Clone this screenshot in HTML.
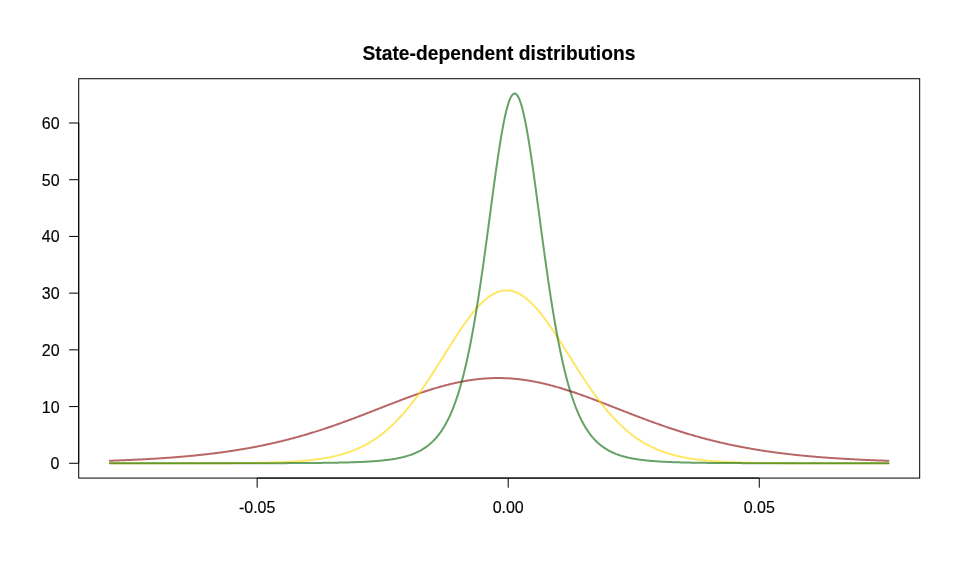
<!DOCTYPE html>
<html><head><meta charset="utf-8"><title>State-dependent distributions</title>
<style>
html,body{margin:0;padding:0;background:#fff;}
svg{display:block}
.t{font-family:"Liberation Sans",Arial,sans-serif;font-size:16px;fill:#000;stroke:#000;stroke-width:0.15px}
.m{font-family:"Liberation Sans",Arial,sans-serif;font-size:19.2px;font-weight:bold;fill:#000;stroke:#000;stroke-width:0.15px}
</style></head><body>
<svg width="960" height="576" viewBox="0 0 960 576">
<rect width="960" height="576" fill="#fff"/>
<polyline points="109.87,460.74 110.65,460.71 111.43,460.68 112.21,460.65 112.99,460.63 113.77,460.60 114.55,460.57 115.33,460.54 116.11,460.51 116.88,460.49 117.66,460.46 118.44,460.43 119.22,460.40 120.00,460.37 120.78,460.34 121.56,460.30 122.34,460.27 123.12,460.24 123.90,460.21 124.68,460.18 125.46,460.15 126.24,460.11 127.02,460.08 127.80,460.05 128.58,460.01 129.36,459.98 130.14,459.94 130.91,459.91 131.69,459.87 132.47,459.84 133.25,459.80 134.03,459.77 134.81,459.73 135.59,459.69 136.37,459.65 137.15,459.62 137.93,459.58 138.71,459.54 139.49,459.50 140.27,459.46 141.05,459.42 141.83,459.38 142.61,459.34 143.39,459.30 144.17,459.26 144.94,459.22 145.72,459.18 146.50,459.13 147.28,459.09 148.06,459.05 148.84,459.00 149.62,458.96 150.40,458.91 151.18,458.87 151.96,458.82 152.74,458.78 153.52,458.73 154.30,458.68 155.08,458.63 155.86,458.59 156.64,458.54 157.42,458.49 158.20,458.44 158.97,458.39 159.75,458.34 160.53,458.29 161.31,458.24 162.09,458.19 162.87,458.13 163.65,458.08 164.43,458.03 165.21,457.97 165.99,457.92 166.77,457.86 167.55,457.81 168.33,457.75 169.11,457.69 169.89,457.64 170.67,457.58 171.45,457.52 172.23,457.46 173.00,457.40 173.78,457.34 174.56,457.28 175.34,457.22 176.12,457.16 176.90,457.10 177.68,457.03 178.46,456.97 179.24,456.91 180.02,456.84 180.80,456.78 181.58,456.71 182.36,456.64 183.14,456.58 183.92,456.51 184.70,456.44 185.48,456.37 186.26,456.30 187.03,456.23 187.81,456.16 188.59,456.09 189.37,456.01 190.15,455.94 190.93,455.87 191.71,455.79 192.49,455.72 193.27,455.64 194.05,455.56 194.83,455.49 195.61,455.41 196.39,455.33 197.17,455.25 197.95,455.17 198.73,455.09 199.51,455.01 200.28,454.92 201.06,454.84 201.84,454.76 202.62,454.67 203.40,454.59 204.18,454.50 204.96,454.41 205.74,454.33 206.52,454.24 207.30,454.15 208.08,454.06 208.86,453.97 209.64,453.87 210.42,453.78 211.20,453.69 211.98,453.59 212.76,453.50 213.54,453.40 214.31,453.30 215.09,453.21 215.87,453.11 216.65,453.01 217.43,452.91 218.21,452.81 218.99,452.70 219.77,452.60 220.55,452.50 221.33,452.39 222.11,452.29 222.89,452.18 223.67,452.07 224.45,451.96 225.23,451.86 226.01,451.74 226.79,451.63 227.57,451.52 228.34,451.41 229.12,451.29 229.90,451.18 230.68,451.06 231.46,450.95 232.24,450.83 233.02,450.71 233.80,450.59 234.58,450.47 235.36,450.35 236.14,450.22 236.92,450.10 237.70,449.97 238.48,449.85 239.26,449.72 240.04,449.59 240.82,449.46 241.60,449.33 242.37,449.20 243.15,449.07 243.93,448.94 244.71,448.80 245.49,448.67 246.27,448.53 247.05,448.39 247.83,448.25 248.61,448.11 249.39,447.97 250.17,447.83 250.95,447.69 251.73,447.54 252.51,447.40 253.29,447.25 254.07,447.10 254.85,446.95 255.63,446.80 256.40,446.65 257.18,446.50 257.96,446.35 258.74,446.19 259.52,446.04 260.30,445.88 261.08,445.72 261.86,445.56 262.64,445.40 263.42,445.24 264.20,445.08 264.98,444.91 265.76,444.75 266.54,444.58 267.32,444.41 268.10,444.25 268.88,444.08 269.66,443.91 270.43,443.73 271.21,443.56 271.99,443.38 272.77,443.21 273.55,443.03 274.33,442.85 275.11,442.67 275.89,442.49 276.67,442.31 277.45,442.13 278.23,441.94 279.01,441.76 279.79,441.57 280.57,441.38 281.35,441.19 282.13,441.00 282.91,440.81 283.68,440.62 284.46,440.42 285.24,440.23 286.02,440.03 286.80,439.83 287.58,439.63 288.36,439.43 289.14,439.23 289.92,439.02 290.70,438.82 291.48,438.61 292.26,438.41 293.04,438.20 293.82,437.99 294.60,437.78 295.38,437.56 296.16,437.35 296.94,437.14 297.71,436.92 298.49,436.70 299.27,436.48 300.05,436.26 300.83,436.04 301.61,435.82 302.39,435.60 303.17,435.37 303.95,435.15 304.73,434.92 305.51,434.69 306.29,434.46 307.07,434.23 307.85,434.00 308.63,433.76 309.41,433.53 310.19,433.29 310.97,433.06 311.74,432.82 312.52,432.58 313.30,432.34 314.08,432.09 314.86,431.85 315.64,431.61 316.42,431.36 317.20,431.11 317.98,430.87 318.76,430.62 319.54,430.37 320.32,430.11 321.10,429.86 321.88,429.61 322.66,429.35 323.44,429.10 324.22,428.84 325.00,428.58 325.77,428.32 326.55,428.06 327.33,427.80 328.11,427.54 328.89,427.27 329.67,427.01 330.45,426.74 331.23,426.47 332.01,426.21 332.79,425.94 333.57,425.67 334.35,425.39 335.13,425.12 335.91,424.85 336.69,424.57 337.47,424.30 338.25,424.02 339.03,423.75 339.80,423.47 340.58,423.19 341.36,422.91 342.14,422.63 342.92,422.35 343.70,422.06 344.48,421.78 345.26,421.49 346.04,421.21 346.82,420.92 347.60,420.64 348.38,420.35 349.16,420.06 349.94,419.77 350.72,419.48 351.50,419.19 352.28,418.90 353.06,418.61 353.83,418.31 354.61,418.02 355.39,417.73 356.17,417.43 356.95,417.14 357.73,416.84 358.51,416.54 359.29,416.25 360.07,415.95 360.85,415.65 361.63,415.35 362.41,415.05 363.19,414.75 363.97,414.45 364.75,414.15 365.53,413.85 366.31,413.55 367.09,413.25 367.86,412.94 368.64,412.64 369.42,412.34 370.20,412.03 370.98,411.73 371.76,411.43 372.54,411.12 373.32,410.82 374.10,410.51 374.88,410.21 375.66,409.91 376.44,409.60 377.22,409.30 378.00,408.99 378.78,408.69 379.56,408.38 380.34,408.08 381.11,407.77 381.89,407.47 382.67,407.16 383.45,406.86 384.23,406.55 385.01,406.25 385.79,405.94 386.57,405.64 387.35,405.33 388.13,405.03 388.91,404.73 389.69,404.42 390.47,404.12 391.25,403.82 392.03,403.52 392.81,403.22 393.59,402.91 394.37,402.61 395.14,402.31 395.92,402.01 396.70,401.71 397.48,401.42 398.26,401.12 399.04,400.82 399.82,400.52 400.60,400.23 401.38,399.93 402.16,399.64 402.94,399.35 403.72,399.05 404.50,398.76 405.28,398.47 406.06,398.18 406.84,397.89 407.62,397.60 408.40,397.31 409.17,397.03 409.95,396.74 410.73,396.46 411.51,396.18 412.29,395.89 413.07,395.61 413.85,395.33 414.63,395.05 415.41,394.78 416.19,394.50 416.97,394.23 417.75,393.95 418.53,393.68 419.31,393.41 420.09,393.14 420.87,392.88 421.65,392.61 422.43,392.35 423.20,392.08 423.98,391.82 424.76,391.56 425.54,391.30 426.32,391.05 427.10,390.79 427.88,390.54 428.66,390.29 429.44,390.04 430.22,389.79 431.00,389.55 431.78,389.30 432.56,389.06 433.34,388.82 434.12,388.58 434.90,388.35 435.68,388.11 436.46,387.88 437.23,387.65 438.01,387.42 438.79,387.20 439.57,386.97 440.35,386.75 441.13,386.53 441.91,386.32 442.69,386.10 443.47,385.89 444.25,385.68 445.03,385.47 445.81,385.27 446.59,385.06 447.37,384.86 448.15,384.67 448.93,384.47 449.71,384.28 450.49,384.09 451.26,383.90 452.04,383.71 452.82,383.53 453.60,383.35 454.38,383.17 455.16,383.00 455.94,382.83 456.72,382.66 457.50,382.49 458.28,382.33 459.06,382.17 459.84,382.01 460.62,381.85 461.40,381.70 462.18,381.55 462.96,381.41 463.74,381.26 464.51,381.12 465.29,380.98 466.07,380.85 466.85,380.72 467.63,380.59 468.41,380.46 469.19,380.34 469.97,380.22 470.75,380.10 471.53,379.99 472.31,379.88 473.09,379.77 473.87,379.67 474.65,379.57 475.43,379.47 476.21,379.37 476.99,379.28 477.77,379.19 478.54,379.11 479.32,379.03 480.10,378.95 480.88,378.87 481.66,378.80 482.44,378.73 483.22,378.66 484.00,378.60 484.78,378.54 485.56,378.49 486.34,378.43 487.12,378.39 487.90,378.34 488.68,378.30 489.46,378.26 490.24,378.22 491.02,378.19 491.80,378.16 492.57,378.13 493.35,378.11 494.13,378.09 494.91,378.08 495.69,378.06 496.47,378.06 497.25,378.05 498.03,378.05 498.81,378.05 499.59,378.05 500.37,378.06 501.15,378.07 501.93,378.09 502.71,378.11 503.49,378.13 504.27,378.15 505.05,378.18 505.83,378.21 506.60,378.25 507.38,378.28 508.16,378.33 508.94,378.37 509.72,378.42 510.50,378.47 511.28,378.52 512.06,378.58 512.84,378.64 513.62,378.71 514.40,378.78 515.18,378.85 515.96,378.92 516.74,379.00 517.52,379.08 518.30,379.16 519.08,379.25 519.86,379.34 520.63,379.44 521.41,379.53 522.19,379.63 522.97,379.74 523.75,379.84 524.53,379.95 525.31,380.06 526.09,380.18 526.87,380.30 527.65,380.42 528.43,380.55 529.21,380.67 529.99,380.80 530.77,380.94 531.55,381.08 532.33,381.22 533.11,381.36 533.89,381.50 534.66,381.65 535.44,381.80 536.22,381.96 537.00,382.12 537.78,382.28 538.56,382.44 539.34,382.60 540.12,382.77 540.90,382.94 541.68,383.12 542.46,383.29 543.24,383.47 544.02,383.65 544.80,383.84 545.58,384.03 546.36,384.22 547.14,384.41 547.91,384.60 548.69,384.80 549.47,385.00 550.25,385.20 551.03,385.40 551.81,385.61 552.59,385.82 553.37,386.03 554.15,386.25 554.93,386.46 555.71,386.68 556.49,386.90 557.27,387.12 558.05,387.35 558.83,387.58 559.61,387.80 560.39,388.04 561.17,388.27 561.94,388.50 562.72,388.74 563.50,388.98 564.28,389.22 565.06,389.47 565.84,389.71 566.62,389.96 567.40,390.21 568.18,390.46 568.96,390.71 569.74,390.96 570.52,391.22 571.30,391.48 572.08,391.74 572.86,392.00 573.64,392.26 574.42,392.52 575.20,392.79 575.97,393.06 576.75,393.32 577.53,393.59 578.31,393.87 579.09,394.14 579.87,394.41 580.65,394.69 581.43,394.96 582.21,395.24 582.99,395.52 583.77,395.80 584.55,396.08 585.33,396.37 586.11,396.65 586.89,396.93 587.67,397.22 588.45,397.51 589.23,397.80 590.00,398.08 590.78,398.37 591.56,398.67 592.34,398.96 593.12,399.25 593.90,399.54 594.68,399.84 595.46,400.13 596.24,400.43 597.02,400.72 597.80,401.02 598.58,401.32 599.36,401.62 600.14,401.92 600.92,402.22 601.70,402.52 602.48,402.82 603.26,403.12 604.03,403.42 604.81,403.72 605.59,404.02 606.37,404.33 607.15,404.63 607.93,404.93 608.71,405.23 609.49,405.54 610.27,405.84 611.05,406.15 611.83,406.45 612.61,406.76 613.39,407.06 614.17,407.37 614.95,407.67 615.73,407.98 616.51,408.28 617.29,408.59 618.06,408.89 618.84,409.20 619.62,409.50 620.40,409.81 621.18,410.11 621.96,410.42 622.74,410.72 623.52,411.02 624.30,411.33 625.08,411.63 625.86,411.94 626.64,412.24 627.42,412.54 628.20,412.84 628.98,413.15 629.76,413.45 630.54,413.75 631.31,414.05 632.09,414.35 632.87,414.65 633.65,414.95 634.43,415.25 635.21,415.55 635.99,415.85 636.77,416.15 637.55,416.45 638.33,416.74 639.11,417.04 639.89,417.33 640.67,417.63 641.45,417.92 642.23,418.22 643.01,418.51 643.79,418.80 644.57,419.10 645.34,419.39 646.12,419.68 646.90,419.97 647.68,420.25 648.46,420.54 649.24,420.83 650.02,421.12 650.80,421.40 651.58,421.69 652.36,421.97 653.14,422.25 653.92,422.54 654.70,422.82 655.48,423.10 656.26,423.38 657.04,423.65 657.82,423.93 658.60,424.21 659.37,424.48 660.15,424.76 660.93,425.03 661.71,425.31 662.49,425.58 663.27,425.85 664.05,426.12 664.83,426.39 665.61,426.65 666.39,426.92 667.17,427.19 667.95,427.45 668.73,427.71 669.51,427.98 670.29,428.24 671.07,428.50 671.85,428.75 672.63,429.01 673.40,429.27 674.18,429.52 674.96,429.78 675.74,430.03 676.52,430.28 677.30,430.53 678.08,430.78 678.86,431.03 679.64,431.28 680.42,431.53 681.20,431.77 681.98,432.01 682.76,432.26 683.54,432.50 684.32,432.74 685.10,432.98 685.88,433.22 686.66,433.45 687.43,433.69 688.21,433.92 688.99,434.15 689.77,434.39 690.55,434.62 691.33,434.84 692.11,435.07 692.89,435.30 693.67,435.52 694.45,435.75 695.23,435.97 696.01,436.19 696.79,436.41 697.57,436.63 698.35,436.85 699.13,437.07 699.91,437.28 700.69,437.49 701.46,437.71 702.24,437.92 703.02,438.13 703.80,438.34 704.58,438.55 705.36,438.75 706.14,438.96 706.92,439.16 707.70,439.36 708.48,439.56 709.26,439.76 710.04,439.96 710.82,440.16 711.60,440.36 712.38,440.55 713.16,440.75 713.94,440.94 714.72,441.13 715.49,441.32 716.27,441.51 717.05,441.70 717.83,441.88 718.61,442.07 719.39,442.25 720.17,442.43 720.95,442.61 721.73,442.79 722.51,442.97 723.29,443.15 724.07,443.33 724.85,443.50 725.63,443.68 726.41,443.85 727.19,444.02 727.97,444.19 728.74,444.36 729.52,444.53 730.30,444.69 731.08,444.86 731.86,445.02 732.64,445.19 733.42,445.35 734.20,445.51 734.98,445.67 735.76,445.83 736.54,445.99 737.32,446.14 738.10,446.30 738.88,446.45 739.66,446.60 740.44,446.75 741.22,446.90 742.00,447.05 742.77,447.20 743.55,447.35 744.33,447.49 745.11,447.64 745.89,447.78 746.67,447.92 747.45,448.07 748.23,448.21 749.01,448.35 749.79,448.48 750.57,448.62 751.35,448.76 752.13,448.89 752.91,449.03 753.69,449.16 754.47,449.29 755.25,449.42 756.03,449.55 756.80,449.68 757.58,449.81 758.36,449.93 759.14,450.06 759.92,450.18 760.70,450.31 761.48,450.43 762.26,450.55 763.04,450.67 763.82,450.79 764.60,450.91 765.38,451.02 766.16,451.14 766.94,451.26 767.72,451.37 768.50,451.48 769.28,451.60 770.06,451.71 770.83,451.82 771.61,451.93 772.39,452.04 773.17,452.15 773.95,452.25 774.73,452.36 775.51,452.46 776.29,452.57 777.07,452.67 777.85,452.77 778.63,452.88 779.41,452.98 780.19,453.08 780.97,453.17 781.75,453.27 782.53,453.37 783.31,453.47 784.09,453.56 784.86,453.66 785.64,453.75 786.42,453.84 787.20,453.94 787.98,454.03 788.76,454.12 789.54,454.21 790.32,454.30 791.10,454.38 791.88,454.47 792.66,454.56 793.44,454.64 794.22,454.73 795.00,454.81 795.78,454.90 796.56,454.98 797.34,455.06 798.12,455.14 798.89,455.22 799.67,455.30 800.45,455.38 801.23,455.46 802.01,455.54 802.79,455.62 803.57,455.69 804.35,455.77 805.13,455.84 805.91,455.92 806.69,455.99 807.47,456.06 808.25,456.13 809.03,456.21 809.81,456.28 810.59,456.35 811.37,456.42 812.14,456.49 812.92,456.55 813.70,456.62 814.48,456.69 815.26,456.75 816.04,456.82 816.82,456.88 817.60,456.95 818.38,457.01 819.16,457.08 819.94,457.14 820.72,457.20 821.50,457.26 822.28,457.32 823.06,457.38 823.84,457.44 824.62,457.50 825.40,457.56 826.17,457.62 826.95,457.68 827.73,457.73 828.51,457.79 829.29,457.84 830.07,457.90 830.85,457.95 831.63,458.01 832.41,458.06 833.19,458.12 833.97,458.17 834.75,458.22 835.53,458.27 836.31,458.32 837.09,458.37 837.87,458.42 838.65,458.47 839.43,458.52 840.20,458.57 840.98,458.62 841.76,458.67 842.54,458.71 843.32,458.76 844.10,458.81 844.88,458.85 845.66,458.90 846.44,458.94 847.22,458.99 848.00,459.03 848.78,459.08 849.56,459.12 850.34,459.16 851.12,459.20 851.90,459.25 852.68,459.29 853.46,459.33 854.23,459.37 855.01,459.41 855.79,459.45 856.57,459.49 857.35,459.53 858.13,459.57 858.91,459.60 859.69,459.64 860.47,459.68 861.25,459.72 862.03,459.75 862.81,459.79 863.59,459.83 864.37,459.86 865.15,459.90 865.93,459.93 866.71,459.97 867.49,460.00 868.26,460.04 869.04,460.07 869.82,460.10 870.60,460.13 871.38,460.17 872.16,460.20 872.94,460.23 873.72,460.26 874.50,460.29 875.28,460.33 876.06,460.36 876.84,460.39 877.62,460.42 878.40,460.45 879.18,460.48 879.96,460.50 880.74,460.53 881.52,460.56 882.29,460.59 883.07,460.62 883.85,460.65 884.63,460.67 885.41,460.70 886.19,460.73 886.97,460.75 887.75,460.78 888.53,460.81" fill="none" stroke="rgba(139,0,0,0.6)" stroke-width="2" stroke-linecap="round" stroke-linejoin="round"/>
<polyline points="109.87,463.29 110.65,463.29 111.43,463.29 112.21,463.29 112.99,463.29 113.77,463.29 114.55,463.29 115.33,463.29 116.11,463.29 116.88,463.29 117.66,463.29 118.44,463.29 119.22,463.29 120.00,463.29 120.78,463.29 121.56,463.29 122.34,463.29 123.12,463.29 123.90,463.29 124.68,463.29 125.46,463.29 126.24,463.29 127.02,463.29 127.80,463.29 128.58,463.29 129.36,463.29 130.14,463.29 130.91,463.29 131.69,463.29 132.47,463.29 133.25,463.29 134.03,463.29 134.81,463.29 135.59,463.29 136.37,463.29 137.15,463.29 137.93,463.29 138.71,463.29 139.49,463.29 140.27,463.29 141.05,463.29 141.83,463.29 142.61,463.28 143.39,463.28 144.17,463.28 144.94,463.28 145.72,463.28 146.50,463.28 147.28,463.28 148.06,463.28 148.84,463.28 149.62,463.28 150.40,463.28 151.18,463.28 151.96,463.28 152.74,463.28 153.52,463.28 154.30,463.28 155.08,463.28 155.86,463.28 156.64,463.28 157.42,463.28 158.20,463.28 158.97,463.28 159.75,463.28 160.53,463.28 161.31,463.28 162.09,463.28 162.87,463.28 163.65,463.28 164.43,463.28 165.21,463.28 165.99,463.28 166.77,463.28 167.55,463.28 168.33,463.28 169.11,463.28 169.89,463.28 170.67,463.27 171.45,463.27 172.23,463.27 173.00,463.27 173.78,463.27 174.56,463.27 175.34,463.27 176.12,463.27 176.90,463.27 177.68,463.27 178.46,463.27 179.24,463.27 180.02,463.27 180.80,463.27 181.58,463.27 182.36,463.27 183.14,463.27 183.92,463.26 184.70,463.26 185.48,463.26 186.26,463.26 187.03,463.26 187.81,463.26 188.59,463.26 189.37,463.26 190.15,463.26 190.93,463.26 191.71,463.26 192.49,463.25 193.27,463.25 194.05,463.25 194.83,463.25 195.61,463.25 196.39,463.25 197.17,463.25 197.95,463.25 198.73,463.24 199.51,463.24 200.28,463.24 201.06,463.24 201.84,463.24 202.62,463.24 203.40,463.24 204.18,463.23 204.96,463.23 205.74,463.23 206.52,463.23 207.30,463.23 208.08,463.22 208.86,463.22 209.64,463.22 210.42,463.22 211.20,463.22 211.98,463.21 212.76,463.21 213.54,463.21 214.31,463.21 215.09,463.20 215.87,463.20 216.65,463.20 217.43,463.20 218.21,463.19 218.99,463.19 219.77,463.19 220.55,463.18 221.33,463.18 222.11,463.18 222.89,463.17 223.67,463.17 224.45,463.17 225.23,463.16 226.01,463.16 226.79,463.15 227.57,463.15 228.34,463.15 229.12,463.14 229.90,463.14 230.68,463.13 231.46,463.13 232.24,463.12 233.02,463.12 233.80,463.11 234.58,463.11 235.36,463.10 236.14,463.09 236.92,463.09 237.70,463.08 238.48,463.08 239.26,463.07 240.04,463.06 240.82,463.06 241.60,463.05 242.37,463.04 243.15,463.03 243.93,463.03 244.71,463.02 245.49,463.01 246.27,463.00 247.05,462.99 247.83,462.98 248.61,462.97 249.39,462.96 250.17,462.95 250.95,462.94 251.73,462.93 252.51,462.92 253.29,462.91 254.07,462.90 254.85,462.89 255.63,462.88 256.40,462.86 257.18,462.85 257.96,462.84 258.74,462.82 259.52,462.81 260.30,462.79 261.08,462.78 261.86,462.76 262.64,462.75 263.42,462.73 264.20,462.72 264.98,462.70 265.76,462.68 266.54,462.66 267.32,462.64 268.10,462.62 268.88,462.60 269.66,462.58 270.43,462.56 271.21,462.54 271.99,462.52 272.77,462.50 273.55,462.47 274.33,462.45 275.11,462.42 275.89,462.40 276.67,462.37 277.45,462.35 278.23,462.32 279.01,462.29 279.79,462.26 280.57,462.23 281.35,462.20 282.13,462.17 282.91,462.13 283.68,462.10 284.46,462.07 285.24,462.03 286.02,461.99 286.80,461.96 287.58,461.92 288.36,461.88 289.14,461.84 289.92,461.79 290.70,461.75 291.48,461.71 292.26,461.66 293.04,461.61 293.82,461.57 294.60,461.52 295.38,461.47 296.16,461.41 296.94,461.36 297.71,461.31 298.49,461.25 299.27,461.19 300.05,461.13 300.83,461.07 301.61,461.01 302.39,460.94 303.17,460.88 303.95,460.81 304.73,460.74 305.51,460.67 306.29,460.60 307.07,460.52 307.85,460.44 308.63,460.36 309.41,460.28 310.19,460.20 310.97,460.11 311.74,460.03 312.52,459.94 313.30,459.84 314.08,459.75 314.86,459.65 315.64,459.55 316.42,459.45 317.20,459.35 317.98,459.24 318.76,459.13 319.54,459.02 320.32,458.90 321.10,458.78 321.88,458.66 322.66,458.54 323.44,458.41 324.22,458.28 325.00,458.15 325.77,458.01 326.55,457.87 327.33,457.72 328.11,457.58 328.89,457.43 329.67,457.27 330.45,457.11 331.23,456.95 332.01,456.79 332.79,456.62 333.57,456.44 334.35,456.27 335.13,456.08 335.91,455.90 336.69,455.71 337.47,455.51 338.25,455.31 339.03,455.11 339.80,454.90 340.58,454.69 341.36,454.47 342.14,454.25 342.92,454.02 343.70,453.78 344.48,453.55 345.26,453.30 346.04,453.05 346.82,452.80 347.60,452.54 348.38,452.27 349.16,452.00 349.94,451.73 350.72,451.44 351.50,451.15 352.28,450.86 353.06,450.56 353.83,450.25 354.61,449.94 355.39,449.61 356.17,449.29 356.95,448.95 357.73,448.61 358.51,448.26 359.29,447.91 360.07,447.55 360.85,447.18 361.63,446.80 362.41,446.42 363.19,446.03 363.97,445.63 364.75,445.22 365.53,444.81 366.31,444.38 367.09,443.95 367.86,443.52 368.64,443.07 369.42,442.61 370.20,442.15 370.98,441.68 371.76,441.20 372.54,440.71 373.32,440.21 374.10,439.70 374.88,439.19 375.66,438.66 376.44,438.13 377.22,437.58 378.00,437.03 378.78,436.47 379.56,435.90 380.34,435.32 381.11,434.73 381.89,434.13 382.67,433.52 383.45,432.90 384.23,432.27 385.01,431.63 385.79,430.98 386.57,430.32 387.35,429.64 388.13,428.96 388.91,428.27 389.69,427.57 390.47,426.86 391.25,426.14 392.03,425.41 392.81,424.66 393.59,423.91 394.37,423.15 395.14,422.37 395.92,421.59 396.70,420.79 397.48,419.98 398.26,419.17 399.04,418.34 399.82,417.50 400.60,416.65 401.38,415.79 402.16,414.92 402.94,414.04 403.72,413.15 404.50,412.25 405.28,411.34 406.06,410.42 406.84,409.48 407.62,408.54 408.40,407.59 409.17,406.62 409.95,405.65 410.73,404.66 411.51,403.67 412.29,402.67 413.07,401.65 413.85,400.63 414.63,399.60 415.41,398.55 416.19,397.50 416.97,396.44 417.75,395.37 418.53,394.29 419.31,393.21 420.09,392.11 420.87,391.01 421.65,389.89 422.43,388.77 423.20,387.64 423.98,386.51 424.76,385.36 425.54,384.21 426.32,383.05 427.10,381.89 427.88,380.72 428.66,379.54 429.44,378.35 430.22,377.16 431.00,375.97 431.78,374.76 432.56,373.56 433.34,372.35 434.12,371.13 434.90,369.91 435.68,368.68 436.46,367.46 437.23,366.23 438.01,364.99 438.79,363.75 439.57,362.51 440.35,361.27 441.13,360.03 441.91,358.79 442.69,357.54 443.47,356.29 444.25,355.05 445.03,353.80 445.81,352.55 446.59,351.31 447.37,350.07 448.15,348.82 448.93,347.58 449.71,346.35 450.49,345.11 451.26,343.88 452.04,342.65 452.82,341.43 453.60,340.21 454.38,338.99 455.16,337.79 455.94,336.58 456.72,335.39 457.50,334.20 458.28,333.01 459.06,331.84 459.84,330.67 460.62,329.51 461.40,328.36 462.18,327.22 462.96,326.09 463.74,324.97 464.51,323.86 465.29,322.76 466.07,321.67 466.85,320.59 467.63,319.53 468.41,318.48 469.19,317.44 469.97,316.42 470.75,315.41 471.53,314.41 472.31,313.43 473.09,312.47 473.87,311.52 474.65,310.58 475.43,309.67 476.21,308.77 476.99,307.89 477.77,307.02 478.54,306.18 479.32,305.35 480.10,304.54 480.88,303.75 481.66,302.98 482.44,302.23 483.22,301.50 484.00,300.79 484.78,300.10 485.56,299.44 486.34,298.79 487.12,298.17 487.90,297.57 488.68,296.99 489.46,296.43 490.24,295.90 491.02,295.39 491.80,294.90 492.57,294.44 493.35,294.00 494.13,293.59 494.91,293.20 495.69,292.83 496.47,292.49 497.25,292.18 498.03,291.89 498.81,291.62 499.59,291.38 500.37,291.16 501.15,290.97 501.93,290.81 502.71,290.67 503.49,290.56 504.27,290.47 505.05,290.41 505.83,290.38 506.60,290.37 507.38,290.38 508.16,290.43 508.94,290.49 509.72,290.59 510.50,290.71 511.28,290.85 512.06,291.03 512.84,291.22 513.62,291.45 514.40,291.69 515.18,291.97 515.96,292.26 516.74,292.59 517.52,292.94 518.30,293.31 519.08,293.70 519.86,294.13 520.63,294.57 521.41,295.04 522.19,295.53 522.97,296.05 523.75,296.59 524.53,297.15 525.31,297.74 526.09,298.34 526.87,298.97 527.65,299.63 528.43,300.30 529.21,300.99 529.99,301.71 530.77,302.44 531.55,303.20 532.33,303.97 533.11,304.77 533.89,305.58 534.66,306.42 535.44,307.27 536.22,308.14 537.00,309.02 537.78,309.93 538.56,310.85 539.34,311.79 540.12,312.74 540.90,313.71 541.68,314.70 542.46,315.70 543.24,316.71 544.02,317.74 544.80,318.78 545.58,319.83 546.36,320.90 547.14,321.98 547.91,323.07 548.69,324.17 549.47,325.29 550.25,326.41 551.03,327.55 551.81,328.69 552.59,329.84 553.37,331.00 554.15,332.17 554.93,333.35 555.71,334.54 556.49,335.73 557.27,336.93 558.05,338.13 558.83,339.34 559.61,340.56 560.39,341.78 561.17,343.00 561.94,344.23 562.72,345.47 563.50,346.70 564.28,347.94 565.06,349.18 565.84,350.42 566.62,351.67 567.40,352.91 568.18,354.16 568.96,355.40 569.74,356.65 570.52,357.90 571.30,359.14 572.08,360.39 572.86,361.63 573.64,362.87 574.42,364.11 575.20,365.35 575.97,366.58 576.75,367.81 577.53,369.04 578.31,370.26 579.09,371.48 579.87,372.69 580.65,373.90 581.43,375.11 582.21,376.31 582.99,377.50 583.77,378.69 584.55,379.88 585.33,381.05 586.11,382.22 586.89,383.39 587.67,384.54 588.45,385.69 589.23,386.83 590.00,387.97 590.78,389.09 591.56,390.21 592.34,391.32 593.12,392.43 593.90,393.52 594.68,394.60 595.46,395.68 596.24,396.75 597.02,397.81 597.80,398.85 598.58,399.89 599.36,400.92 600.14,401.94 600.92,402.96 601.70,403.96 602.48,404.95 603.26,405.93 604.03,406.90 604.81,407.86 605.59,408.81 606.37,409.75 607.15,410.68 607.93,411.60 608.71,412.51 609.49,413.41 610.27,414.30 611.05,415.17 611.83,416.04 612.61,416.90 613.39,417.74 614.17,418.58 614.95,419.40 615.73,420.22 616.51,421.02 617.29,421.81 618.06,422.59 618.84,423.37 619.62,424.13 620.40,424.88 621.18,425.62 621.96,426.35 622.74,427.07 623.52,427.77 624.30,428.47 625.08,429.16 625.86,429.84 626.64,430.51 627.42,431.16 628.20,431.81 628.98,432.45 629.76,433.07 630.54,433.69 631.31,434.30 632.09,434.90 632.87,435.48 633.65,436.06 634.43,436.63 635.21,437.19 635.99,437.74 636.77,438.28 637.55,438.81 638.33,439.34 639.11,439.85 639.89,440.35 640.67,440.85 641.45,441.34 642.23,441.81 643.01,442.28 643.79,442.74 644.57,443.20 645.34,443.64 646.12,444.08 646.90,444.51 647.68,444.93 648.46,445.34 649.24,445.74 650.02,446.14 650.80,446.53 651.58,446.91 652.36,447.29 653.14,447.65 653.92,448.01 654.70,448.37 655.48,448.71 656.26,449.05 657.04,449.38 657.82,449.71 658.60,450.03 659.37,450.34 660.15,450.64 660.93,450.94 661.71,451.24 662.49,451.52 663.27,451.81 664.05,452.08 664.83,452.35 665.61,452.62 666.39,452.87 667.17,453.13 667.95,453.37 668.73,453.62 669.51,453.85 670.29,454.08 671.07,454.31 671.85,454.53 672.63,454.75 673.40,454.96 674.18,455.17 674.96,455.37 675.74,455.57 676.52,455.76 677.30,455.95 678.08,456.14 678.86,456.32 679.64,456.49 680.42,456.67 681.20,456.83 681.98,457.00 682.76,457.16 683.54,457.32 684.32,457.47 685.10,457.62 685.88,457.77 686.66,457.91 687.43,458.05 688.21,458.18 688.99,458.32 689.77,458.45 690.55,458.57 691.33,458.70 692.11,458.82 692.89,458.93 693.67,459.05 694.45,459.16 695.23,459.27 696.01,459.38 696.79,459.48 697.57,459.58 698.35,459.68 699.13,459.78 699.91,459.87 700.69,459.96 701.46,460.05 702.24,460.14 703.02,460.22 703.80,460.31 704.58,460.39 705.36,460.47 706.14,460.54 706.92,460.62 707.70,460.69 708.48,460.76 709.26,460.83 710.04,460.90 710.82,460.96 711.60,461.03 712.38,461.09 713.16,461.15 713.94,461.21 714.72,461.27 715.49,461.32 716.27,461.38 717.05,461.43 717.83,461.48 718.61,461.53 719.39,461.58 720.17,461.63 720.95,461.67 721.73,461.72 722.51,461.76 723.29,461.81 724.07,461.85 724.85,461.89 725.63,461.93 726.41,461.97 727.19,462.00 727.97,462.04 728.74,462.08 729.52,462.11 730.30,462.14 731.08,462.18 731.86,462.21 732.64,462.24 733.42,462.27 734.20,462.30 734.98,462.33 735.76,462.35 736.54,462.38 737.32,462.41 738.10,462.43 738.88,462.46 739.66,462.48 740.44,462.50 741.22,462.53 742.00,462.55 742.77,462.57 743.55,462.59 744.33,462.61 745.11,462.63 745.89,462.65 746.67,462.67 747.45,462.69 748.23,462.70 749.01,462.72 749.79,462.74 750.57,462.75 751.35,462.77 752.13,462.78 752.91,462.80 753.69,462.81 754.47,462.83 755.25,462.84 756.03,462.85 756.80,462.87 757.58,462.88 758.36,462.89 759.14,462.90 759.92,462.91 760.70,462.93 761.48,462.94 762.26,462.95 763.04,462.96 763.82,462.97 764.60,462.98 765.38,462.98 766.16,462.99 766.94,463.00 767.72,463.01 768.50,463.02 769.28,463.03 770.06,463.04 770.83,463.04 771.61,463.05 772.39,463.06 773.17,463.06 773.95,463.07 774.73,463.08 775.51,463.08 776.29,463.09 777.07,463.10 777.85,463.10 778.63,463.11 779.41,463.11 780.19,463.12 780.97,463.12 781.75,463.13 782.53,463.13 783.31,463.14 784.09,463.14 784.86,463.15 785.64,463.15 786.42,463.15 787.20,463.16 787.98,463.16 788.76,463.17 789.54,463.17 790.32,463.17 791.10,463.18 791.88,463.18 792.66,463.18 793.44,463.19 794.22,463.19 795.00,463.19 795.78,463.20 796.56,463.20 797.34,463.20 798.12,463.20 798.89,463.21 799.67,463.21 800.45,463.21 801.23,463.21 802.01,463.22 802.79,463.22 803.57,463.22 804.35,463.22 805.13,463.22 805.91,463.23 806.69,463.23 807.47,463.23 808.25,463.23 809.03,463.23 809.81,463.24 810.59,463.24 811.37,463.24 812.14,463.24 812.92,463.24 813.70,463.24 814.48,463.24 815.26,463.25 816.04,463.25 816.82,463.25 817.60,463.25 818.38,463.25 819.16,463.25 819.94,463.25 820.72,463.25 821.50,463.26 822.28,463.26 823.06,463.26 823.84,463.26 824.62,463.26 825.40,463.26 826.17,463.26 826.95,463.26 827.73,463.26 828.51,463.26 829.29,463.26 830.07,463.27 830.85,463.27 831.63,463.27 832.41,463.27 833.19,463.27 833.97,463.27 834.75,463.27 835.53,463.27 836.31,463.27 837.09,463.27 837.87,463.27 838.65,463.27 839.43,463.27 840.20,463.27 840.98,463.27 841.76,463.27 842.54,463.27 843.32,463.28 844.10,463.28 844.88,463.28 845.66,463.28 846.44,463.28 847.22,463.28 848.00,463.28 848.78,463.28 849.56,463.28 850.34,463.28 851.12,463.28 851.90,463.28 852.68,463.28 853.46,463.28 854.23,463.28 855.01,463.28 855.79,463.28 856.57,463.28 857.35,463.28 858.13,463.28 858.91,463.28 859.69,463.28 860.47,463.28 861.25,463.28 862.03,463.28 862.81,463.28 863.59,463.28 864.37,463.28 865.15,463.28 865.93,463.28 866.71,463.28 867.49,463.28 868.26,463.28 869.04,463.28 869.82,463.28 870.60,463.28 871.38,463.29 872.16,463.29 872.94,463.29 873.72,463.29 874.50,463.29 875.28,463.29 876.06,463.29 876.84,463.29 877.62,463.29 878.40,463.29 879.18,463.29 879.96,463.29 880.74,463.29 881.52,463.29 882.29,463.29 883.07,463.29 883.85,463.29 884.63,463.29 885.41,463.29 886.19,463.29 886.97,463.29 887.75,463.29 888.53,463.29" fill="none" stroke="rgba(255,215,0,0.6)" stroke-width="2" stroke-linecap="round" stroke-linejoin="round"/>
<polyline points="109.87,463.28 110.65,463.28 111.43,463.28 112.21,463.28 112.99,463.28 113.77,463.28 114.55,463.28 115.33,463.28 116.11,463.28 116.88,463.28 117.66,463.28 118.44,463.28 119.22,463.28 120.00,463.28 120.78,463.28 121.56,463.28 122.34,463.28 123.12,463.28 123.90,463.28 124.68,463.28 125.46,463.28 126.24,463.28 127.02,463.28 127.80,463.28 128.58,463.28 129.36,463.28 130.14,463.28 130.91,463.28 131.69,463.28 132.47,463.28 133.25,463.28 134.03,463.28 134.81,463.28 135.59,463.28 136.37,463.28 137.15,463.28 137.93,463.28 138.71,463.28 139.49,463.28 140.27,463.28 141.05,463.28 141.83,463.28 142.61,463.28 143.39,463.28 144.17,463.28 144.94,463.28 145.72,463.28 146.50,463.28 147.28,463.28 148.06,463.28 148.84,463.28 149.62,463.28 150.40,463.28 151.18,463.28 151.96,463.28 152.74,463.28 153.52,463.28 154.30,463.28 155.08,463.28 155.86,463.28 156.64,463.28 157.42,463.28 158.20,463.28 158.97,463.28 159.75,463.28 160.53,463.28 161.31,463.28 162.09,463.28 162.87,463.28 163.65,463.28 164.43,463.28 165.21,463.28 165.99,463.28 166.77,463.28 167.55,463.28 168.33,463.27 169.11,463.27 169.89,463.27 170.67,463.27 171.45,463.27 172.23,463.27 173.00,463.27 173.78,463.27 174.56,463.27 175.34,463.27 176.12,463.27 176.90,463.27 177.68,463.27 178.46,463.27 179.24,463.27 180.02,463.27 180.80,463.27 181.58,463.27 182.36,463.27 183.14,463.27 183.92,463.27 184.70,463.27 185.48,463.27 186.26,463.27 187.03,463.27 187.81,463.27 188.59,463.27 189.37,463.27 190.15,463.27 190.93,463.27 191.71,463.27 192.49,463.27 193.27,463.27 194.05,463.27 194.83,463.27 195.61,463.27 196.39,463.27 197.17,463.27 197.95,463.26 198.73,463.26 199.51,463.26 200.28,463.26 201.06,463.26 201.84,463.26 202.62,463.26 203.40,463.26 204.18,463.26 204.96,463.26 205.74,463.26 206.52,463.26 207.30,463.26 208.08,463.26 208.86,463.26 209.64,463.26 210.42,463.26 211.20,463.26 211.98,463.26 212.76,463.26 213.54,463.26 214.31,463.26 215.09,463.26 215.87,463.25 216.65,463.25 217.43,463.25 218.21,463.25 218.99,463.25 219.77,463.25 220.55,463.25 221.33,463.25 222.11,463.25 222.89,463.25 223.67,463.25 224.45,463.25 225.23,463.25 226.01,463.25 226.79,463.25 227.57,463.25 228.34,463.24 229.12,463.24 229.90,463.24 230.68,463.24 231.46,463.24 232.24,463.24 233.02,463.24 233.80,463.24 234.58,463.24 235.36,463.24 236.14,463.24 236.92,463.24 237.70,463.24 238.48,463.23 239.26,463.23 240.04,463.23 240.82,463.23 241.60,463.23 242.37,463.23 243.15,463.23 243.93,463.23 244.71,463.23 245.49,463.23 246.27,463.22 247.05,463.22 247.83,463.22 248.61,463.22 249.39,463.22 250.17,463.22 250.95,463.22 251.73,463.22 252.51,463.22 253.29,463.21 254.07,463.21 254.85,463.21 255.63,463.21 256.40,463.21 257.18,463.21 257.96,463.21 258.74,463.20 259.52,463.20 260.30,463.20 261.08,463.20 261.86,463.20 262.64,463.20 263.42,463.20 264.20,463.19 264.98,463.19 265.76,463.19 266.54,463.19 267.32,463.19 268.10,463.19 268.88,463.18 269.66,463.18 270.43,463.18 271.21,463.18 271.99,463.18 272.77,463.17 273.55,463.17 274.33,463.17 275.11,463.17 275.89,463.16 276.67,463.16 277.45,463.16 278.23,463.16 279.01,463.15 279.79,463.15 280.57,463.15 281.35,463.15 282.13,463.14 282.91,463.14 283.68,463.14 284.46,463.14 285.24,463.13 286.02,463.13 286.80,463.13 287.58,463.12 288.36,463.12 289.14,463.12 289.92,463.11 290.70,463.11 291.48,463.11 292.26,463.10 293.04,463.10 293.82,463.10 294.60,463.09 295.38,463.09 296.16,463.08 296.94,463.08 297.71,463.08 298.49,463.07 299.27,463.07 300.05,463.06 300.83,463.06 301.61,463.05 302.39,463.05 303.17,463.04 303.95,463.04 304.73,463.03 305.51,463.03 306.29,463.02 307.07,463.02 307.85,463.01 308.63,463.01 309.41,463.00 310.19,462.99 310.97,462.99 311.74,462.98 312.52,462.98 313.30,462.97 314.08,462.96 314.86,462.96 315.64,462.95 316.42,462.94 317.20,462.93 317.98,462.93 318.76,462.92 319.54,462.91 320.32,462.90 321.10,462.89 321.88,462.88 322.66,462.87 323.44,462.87 324.22,462.86 325.00,462.85 325.77,462.84 326.55,462.83 327.33,462.82 328.11,462.81 328.89,462.79 329.67,462.78 330.45,462.77 331.23,462.76 332.01,462.75 332.79,462.74 333.57,462.72 334.35,462.71 335.13,462.70 335.91,462.68 336.69,462.67 337.47,462.65 338.25,462.64 339.03,462.62 339.80,462.61 340.58,462.59 341.36,462.57 342.14,462.56 342.92,462.54 343.70,462.52 344.48,462.50 345.26,462.48 346.04,462.46 346.82,462.44 347.60,462.42 348.38,462.40 349.16,462.38 349.94,462.36 350.72,462.33 351.50,462.31 352.28,462.29 353.06,462.26 353.83,462.23 354.61,462.21 355.39,462.18 356.17,462.15 356.95,462.12 357.73,462.09 358.51,462.06 359.29,462.03 360.07,462.00 360.85,461.96 361.63,461.93 362.41,461.89 363.19,461.86 363.97,461.82 364.75,461.78 365.53,461.74 366.31,461.70 367.09,461.66 367.86,461.61 368.64,461.57 369.42,461.52 370.20,461.47 370.98,461.42 371.76,461.37 372.54,461.32 373.32,461.26 374.10,461.21 374.88,461.15 375.66,461.09 376.44,461.03 377.22,460.96 378.00,460.90 378.78,460.83 379.56,460.76 380.34,460.69 381.11,460.61 381.89,460.54 382.67,460.46 383.45,460.38 384.23,460.29 385.01,460.20 385.79,460.11 386.57,460.02 387.35,459.92 388.13,459.83 388.91,459.72 389.69,459.62 390.47,459.51 391.25,459.39 392.03,459.28 392.81,459.15 393.59,459.03 394.37,458.90 395.14,458.77 395.92,458.63 396.70,458.48 397.48,458.34 398.26,458.18 399.04,458.02 399.82,457.86 400.60,457.69 401.38,457.51 402.16,457.33 402.94,457.14 403.72,456.95 404.50,456.74 405.28,456.54 406.06,456.32 406.84,456.09 407.62,455.86 408.40,455.62 409.17,455.37 409.95,455.11 410.73,454.85 411.51,454.57 412.29,454.28 413.07,453.98 413.85,453.68 414.63,453.36 415.41,453.02 416.19,452.68 416.97,452.33 417.75,451.96 418.53,451.57 419.31,451.18 420.09,450.76 420.87,450.34 421.65,449.89 422.43,449.44 423.20,448.96 423.98,448.46 424.76,447.95 425.54,447.42 426.32,446.87 427.10,446.30 427.88,445.70 428.66,445.09 429.44,444.45 430.22,443.78 431.00,443.10 431.78,442.38 432.56,441.64 433.34,440.87 434.12,440.07 434.90,439.25 435.68,438.39 436.46,437.49 437.23,436.57 438.01,435.61 438.79,434.61 439.57,433.58 440.35,432.51 441.13,431.39 441.91,430.24 442.69,429.04 443.47,427.80 444.25,426.51 445.03,425.18 445.81,423.79 446.59,422.35 447.37,420.86 448.15,419.32 448.93,417.72 449.71,416.06 450.49,414.34 451.26,412.55 452.04,410.71 452.82,408.80 453.60,406.82 454.38,404.76 455.16,402.64 455.94,400.44 456.72,398.17 457.50,395.82 458.28,393.39 459.06,390.87 459.84,388.27 460.62,385.59 461.40,382.81 462.18,379.95 462.96,376.99 463.74,373.94 464.51,370.80 465.29,367.55 466.07,364.21 466.85,360.77 467.63,357.22 468.41,353.57 469.19,349.82 469.97,345.97 470.75,342.00 471.53,337.94 472.31,333.76 473.09,329.48 473.87,325.10 474.65,320.61 475.43,316.01 476.21,311.32 476.99,306.52 477.77,301.62 478.54,296.63 479.32,291.54 480.10,286.35 480.88,281.09 481.66,275.73 482.44,270.30 483.22,264.80 484.00,259.22 484.78,253.59 485.56,247.90 486.34,242.15 487.12,236.37 487.90,230.56 488.68,224.72 489.46,218.86 490.24,213.00 491.02,207.14 491.80,201.30 492.57,195.49 493.35,189.71 494.13,183.98 494.91,178.32 495.69,172.73 496.47,167.22 497.25,161.82 498.03,156.53 498.81,151.37 499.59,146.35 500.37,141.48 501.15,136.78 501.93,132.26 502.71,127.94 503.49,123.81 504.27,119.91 505.05,116.24 505.83,112.81 506.60,109.63 507.38,106.71 508.16,104.07 508.94,101.70 509.72,99.62 510.50,97.84 511.28,96.36 512.06,95.18 512.84,94.31 513.62,93.76 514.40,93.52 515.18,93.60 515.96,93.99 516.74,94.69 517.52,95.71 518.30,97.03 519.08,98.66 519.86,100.58 520.63,102.80 521.41,105.30 522.19,108.08 522.97,111.12 523.75,114.42 524.53,117.97 525.31,121.76 526.09,125.77 526.87,129.99 527.65,134.41 528.43,139.02 529.21,143.80 529.99,148.74 530.77,153.83 531.55,159.06 532.33,164.40 533.11,169.85 533.89,175.40 534.66,181.03 535.44,186.72 536.22,192.48 537.00,198.27 537.78,204.10 538.56,209.95 539.34,215.81 540.12,221.67 540.90,227.52 541.68,233.35 542.46,239.15 543.24,244.91 544.02,250.63 544.80,256.30 545.58,261.91 546.36,267.45 547.14,272.92 547.91,278.31 548.69,283.63 549.47,288.85 550.25,293.99 551.03,299.03 551.81,303.98 552.59,308.83 553.37,313.58 554.15,318.23 554.93,322.78 555.71,327.22 556.49,331.55 557.27,335.78 558.05,339.90 558.83,343.92 559.61,347.83 560.39,351.63 561.17,355.34 561.94,358.93 562.72,362.43 563.50,365.83 564.28,369.12 565.06,372.32 565.84,375.42 566.62,378.42 567.40,381.33 568.18,384.16 568.96,386.89 569.74,389.53 570.52,392.09 571.30,394.56 572.08,396.96 572.86,399.27 573.64,401.51 574.42,403.67 575.20,405.76 575.97,407.77 576.75,409.72 577.53,411.60 578.31,413.42 579.09,415.17 579.87,416.86 580.65,418.49 581.43,420.07 582.21,421.58 582.99,423.05 583.77,424.46 584.55,425.82 585.33,427.14 586.11,428.40 586.89,429.62 587.67,430.80 588.45,431.93 589.23,433.03 590.00,434.08 590.78,435.10 591.56,436.07 592.34,437.02 593.12,437.93 593.90,438.80 594.68,439.65 595.46,440.46 596.24,441.24 597.02,442.00 597.80,442.73 598.58,443.43 599.36,444.11 600.14,444.76 600.92,445.38 601.70,445.99 602.48,446.57 603.26,447.14 604.03,447.68 604.81,448.20 605.59,448.70 606.37,449.19 607.15,449.66 607.93,450.11 608.71,450.54 609.49,450.96 610.27,451.37 611.05,451.76 611.83,452.13 612.61,452.50 613.39,452.85 614.17,453.19 614.95,453.51 615.73,453.83 616.51,454.13 617.29,454.42 618.06,454.70 618.84,454.98 619.62,455.24 620.40,455.49 621.18,455.74 621.96,455.97 622.74,456.20 623.52,456.42 624.30,456.64 625.08,456.84 625.86,457.04 626.64,457.23 627.42,457.42 628.20,457.60 628.98,457.77 629.76,457.94 630.54,458.10 631.31,458.26 632.09,458.41 632.87,458.55 633.65,458.69 634.43,458.83 635.21,458.96 635.99,459.09 636.77,459.21 637.55,459.33 638.33,459.45 639.11,459.56 639.89,459.67 640.67,459.77 641.45,459.87 642.23,459.97 643.01,460.07 643.79,460.16 644.57,460.25 645.34,460.33 646.12,460.42 646.90,460.50 647.68,460.57 648.46,460.65 649.24,460.72 650.02,460.79 650.80,460.86 651.58,460.93 652.36,460.99 653.14,461.06 653.92,461.12 654.70,461.18 655.48,461.23 656.26,461.29 657.04,461.34 657.82,461.39 658.60,461.45 659.37,461.49 660.15,461.54 660.93,461.59 661.71,461.63 662.49,461.68 663.27,461.72 664.05,461.76 664.83,461.80 665.61,461.84 666.39,461.87 667.17,461.91 667.95,461.95 668.73,461.98 669.51,462.01 670.29,462.05 671.07,462.08 671.85,462.11 672.63,462.14 673.40,462.17 674.18,462.19 674.96,462.22 675.74,462.25 676.52,462.27 677.30,462.30 678.08,462.32 678.86,462.35 679.64,462.37 680.42,462.39 681.20,462.41 681.98,462.43 682.76,462.45 683.54,462.47 684.32,462.49 685.10,462.51 685.88,462.53 686.66,462.55 687.43,462.57 688.21,462.58 688.99,462.60 689.77,462.61 690.55,462.63 691.33,462.65 692.11,462.66 692.89,462.67 693.67,462.69 694.45,462.70 695.23,462.72 696.01,462.73 696.79,462.74 697.57,462.75 698.35,462.77 699.13,462.78 699.91,462.79 700.69,462.80 701.46,462.81 702.24,462.82 703.02,462.83 703.80,462.84 704.58,462.85 705.36,462.86 706.14,462.87 706.92,462.88 707.70,462.89 708.48,462.90 709.26,462.91 710.04,462.91 710.82,462.92 711.60,462.93 712.38,462.94 713.16,462.94 713.94,462.95 714.72,462.96 715.49,462.97 716.27,462.97 717.05,462.98 717.83,462.99 718.61,462.99 719.39,463.00 720.17,463.00 720.95,463.01 721.73,463.02 722.51,463.02 723.29,463.03 724.07,463.03 724.85,463.04 725.63,463.04 726.41,463.05 727.19,463.05 727.97,463.06 728.74,463.06 729.52,463.07 730.30,463.07 731.08,463.07 731.86,463.08 732.64,463.08 733.42,463.09 734.20,463.09 734.98,463.09 735.76,463.10 736.54,463.10 737.32,463.11 738.10,463.11 738.88,463.11 739.66,463.12 740.44,463.12 741.22,463.12 742.00,463.13 742.77,463.13 743.55,463.13 744.33,463.13 745.11,463.14 745.89,463.14 746.67,463.14 747.45,463.15 748.23,463.15 749.01,463.15 749.79,463.15 750.57,463.16 751.35,463.16 752.13,463.16 752.91,463.16 753.69,463.17 754.47,463.17 755.25,463.17 756.03,463.17 756.80,463.17 757.58,463.18 758.36,463.18 759.14,463.18 759.92,463.18 760.70,463.18 761.48,463.19 762.26,463.19 763.04,463.19 763.82,463.19 764.60,463.19 765.38,463.19 766.16,463.20 766.94,463.20 767.72,463.20 768.50,463.20 769.28,463.20 770.06,463.20 770.83,463.21 771.61,463.21 772.39,463.21 773.17,463.21 773.95,463.21 774.73,463.21 775.51,463.21 776.29,463.22 777.07,463.22 777.85,463.22 778.63,463.22 779.41,463.22 780.19,463.22 780.97,463.22 781.75,463.22 782.53,463.22 783.31,463.23 784.09,463.23 784.86,463.23 785.64,463.23 786.42,463.23 787.20,463.23 787.98,463.23 788.76,463.23 789.54,463.23 790.32,463.23 791.10,463.24 791.88,463.24 792.66,463.24 793.44,463.24 794.22,463.24 795.00,463.24 795.78,463.24 796.56,463.24 797.34,463.24 798.12,463.24 798.89,463.24 799.67,463.24 800.45,463.24 801.23,463.25 802.01,463.25 802.79,463.25 803.57,463.25 804.35,463.25 805.13,463.25 805.91,463.25 806.69,463.25 807.47,463.25 808.25,463.25 809.03,463.25 809.81,463.25 810.59,463.25 811.37,463.25 812.14,463.25 812.92,463.25 813.70,463.25 814.48,463.26 815.26,463.26 816.04,463.26 816.82,463.26 817.60,463.26 818.38,463.26 819.16,463.26 819.94,463.26 820.72,463.26 821.50,463.26 822.28,463.26 823.06,463.26 823.84,463.26 824.62,463.26 825.40,463.26 826.17,463.26 826.95,463.26 827.73,463.26 828.51,463.26 829.29,463.26 830.07,463.26 830.85,463.26 831.63,463.26 832.41,463.27 833.19,463.27 833.97,463.27 834.75,463.27 835.53,463.27 836.31,463.27 837.09,463.27 837.87,463.27 838.65,463.27 839.43,463.27 840.20,463.27 840.98,463.27 841.76,463.27 842.54,463.27 843.32,463.27 844.10,463.27 844.88,463.27 845.66,463.27 846.44,463.27 847.22,463.27 848.00,463.27 848.78,463.27 849.56,463.27 850.34,463.27 851.12,463.27 851.90,463.27 852.68,463.27 853.46,463.27 854.23,463.27 855.01,463.27 855.79,463.27 856.57,463.27 857.35,463.27 858.13,463.27 858.91,463.27 859.69,463.27 860.47,463.27 861.25,463.28 862.03,463.28 862.81,463.28 863.59,463.28 864.37,463.28 865.15,463.28 865.93,463.28 866.71,463.28 867.49,463.28 868.26,463.28 869.04,463.28 869.82,463.28 870.60,463.28 871.38,463.28 872.16,463.28 872.94,463.28 873.72,463.28 874.50,463.28 875.28,463.28 876.06,463.28 876.84,463.28 877.62,463.28 878.40,463.28 879.18,463.28 879.96,463.28 880.74,463.28 881.52,463.28 882.29,463.28 883.07,463.28 883.85,463.28 884.63,463.28 885.41,463.28 886.19,463.28 886.97,463.28 887.75,463.28 888.53,463.28" fill="none" stroke="rgba(0,100,0,0.6)" stroke-width="2" stroke-linecap="round" stroke-linejoin="round"/>
<rect x="78.72" y="78.72" width="840.96" height="399.36" fill="none" stroke="#000" stroke-width="1"/>
<line x1="257.15" y1="478.08" x2="759.25" y2="478.08" stroke="#000" stroke-width="1"/>
<line x1="257.15" y1="478.08" x2="257.15" y2="487.68" stroke="#000" stroke-width="1"/>
<text transform="translate(257.15,512.85) scale(1,1.05)" text-anchor="middle" class="t">-0.05</text>
<line x1="508.20" y1="478.08" x2="508.20" y2="487.68" stroke="#000" stroke-width="1"/>
<text transform="translate(508.20,512.85) scale(1,1.05)" text-anchor="middle" class="t">0.00</text>
<line x1="759.25" y1="478.08" x2="759.25" y2="487.68" stroke="#000" stroke-width="1"/>
<text transform="translate(759.25,512.85) scale(1,1.05)" text-anchor="middle" class="t">0.05</text>
<line x1="78.72" y1="463.29" x2="78.72" y2="123.00" stroke="#000" stroke-width="1"/>
<line x1="78.72" y1="463.29" x2="69.12" y2="463.29" stroke="#000" stroke-width="1"/>
<text transform="translate(59.52,469.34) scale(1,1.05)" text-anchor="end" class="t">0</text>
<line x1="78.72" y1="406.58" x2="69.12" y2="406.58" stroke="#000" stroke-width="1"/>
<text transform="translate(59.52,412.63) scale(1,1.05)" text-anchor="end" class="t">10</text>
<line x1="78.72" y1="349.86" x2="69.12" y2="349.86" stroke="#000" stroke-width="1"/>
<text transform="translate(59.52,355.91) scale(1,1.05)" text-anchor="end" class="t">20</text>
<line x1="78.72" y1="293.15" x2="69.12" y2="293.15" stroke="#000" stroke-width="1"/>
<text transform="translate(59.52,299.20) scale(1,1.05)" text-anchor="end" class="t">30</text>
<line x1="78.72" y1="236.43" x2="69.12" y2="236.43" stroke="#000" stroke-width="1"/>
<text transform="translate(59.52,242.48) scale(1,1.05)" text-anchor="end" class="t">40</text>
<line x1="78.72" y1="179.72" x2="69.12" y2="179.72" stroke="#000" stroke-width="1"/>
<text transform="translate(59.52,185.77) scale(1,1.05)" text-anchor="end" class="t">50</text>
<line x1="78.72" y1="123.00" x2="69.12" y2="123.00" stroke="#000" stroke-width="1"/>
<text transform="translate(59.52,129.05) scale(1,1.05)" text-anchor="end" class="t">60</text>
<text transform="translate(498.95,59.6) scale(1,1.05)" x="0" y="0" text-anchor="middle" textLength="273.0" lengthAdjust="spacing" class="m">State-dependent distributions</text>
</svg>
</body></html>
